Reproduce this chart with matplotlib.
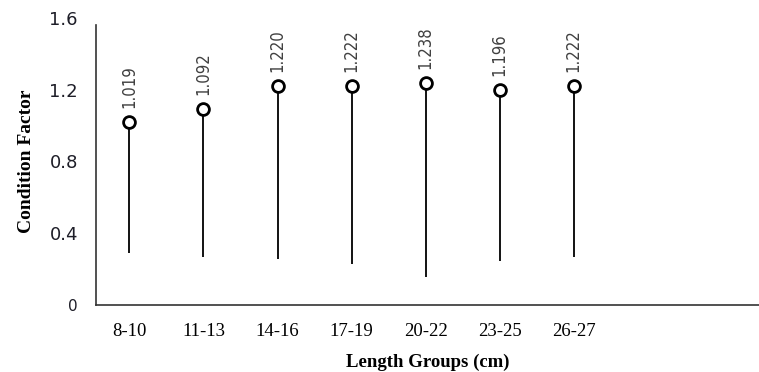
import matplotlib
matplotlib.use("Agg")
import matplotlib.pyplot as plt
import numpy as np

groups = ["8-10", "11-13", "14-16", "17-19", "20-22", "23-25", "26-27"]
cf_mean = [1.019, 1.092, 1.220, 1.222, 1.238, 1.196, 1.222]
cf_low = [0.29, 0.265, 0.257, 0.231, 0.157, 0.243, 0.265]
yticks = [0, 0.4, 0.8, 1.2, 1.6]
ytick_labels = ["0", "0.4", "0.8", "1.2", "1.6"]

fig = plt.figure(figsize=(7.59, 3.72), dpi=100)
ax = fig.add_axes([0.1265, 0.18, 0.8735, 0.772])

x = np.arange(len(groups))
ax.vlines(x, cf_low, cf_mean, color="black", linewidth=1.3)
ax.plot(x, cf_mean, linestyle="none", marker="o", markersize=8.5,
        markerfacecolor="white", markeredgecolor="black", markeredgewidth=2)

for xi, v in zip(x, cf_mean):
    ax.annotate(f"{v:.3f}", (xi, v), xytext=(0, 10), textcoords="offset points",
                rotation=90, ha="center", va="bottom", color="#404040",
                fontsize=12, family="DejaVu Sans", fontstretch="condensed")

ax.set_xlim(-0.45, 8.5)
ax.set_ylim(0, 1.6)
ax.set_xticks(x)
ax.set_xticklabels(groups, family="Liberation Serif", fontsize=13.5)
ax.set_yticks(yticks)
ax.set_yticklabels(ytick_labels, family="DejaVu Sans", fontsize=13,
                   fontweight="medium", color="#1e1e28")
ax.get_yticklabels()[0].set_fontsize(11)
ax.tick_params(axis="y", length=0, pad=13)
ax.tick_params(axis="x", length=0, pad=13)

for s in ["top", "right"]:
    ax.spines[s].set_visible(False)
for s in ["left", "bottom"]:
    ax.spines[s].set_color("#333333")
    ax.spines[s].set_linewidth(1.2)
ax.spines["left"].set_bounds(0, 1.56)

ax.set_xlabel("Length Groups (cm)", family="Liberation Serif", fontweight="bold",
              fontsize=13.5, labelpad=10)
ax.set_ylabel("Condition Factor", family="Liberation Serif", fontweight="bold",
              fontsize=14, labelpad=10)

fig.savefig("out.png", dpi=100)
